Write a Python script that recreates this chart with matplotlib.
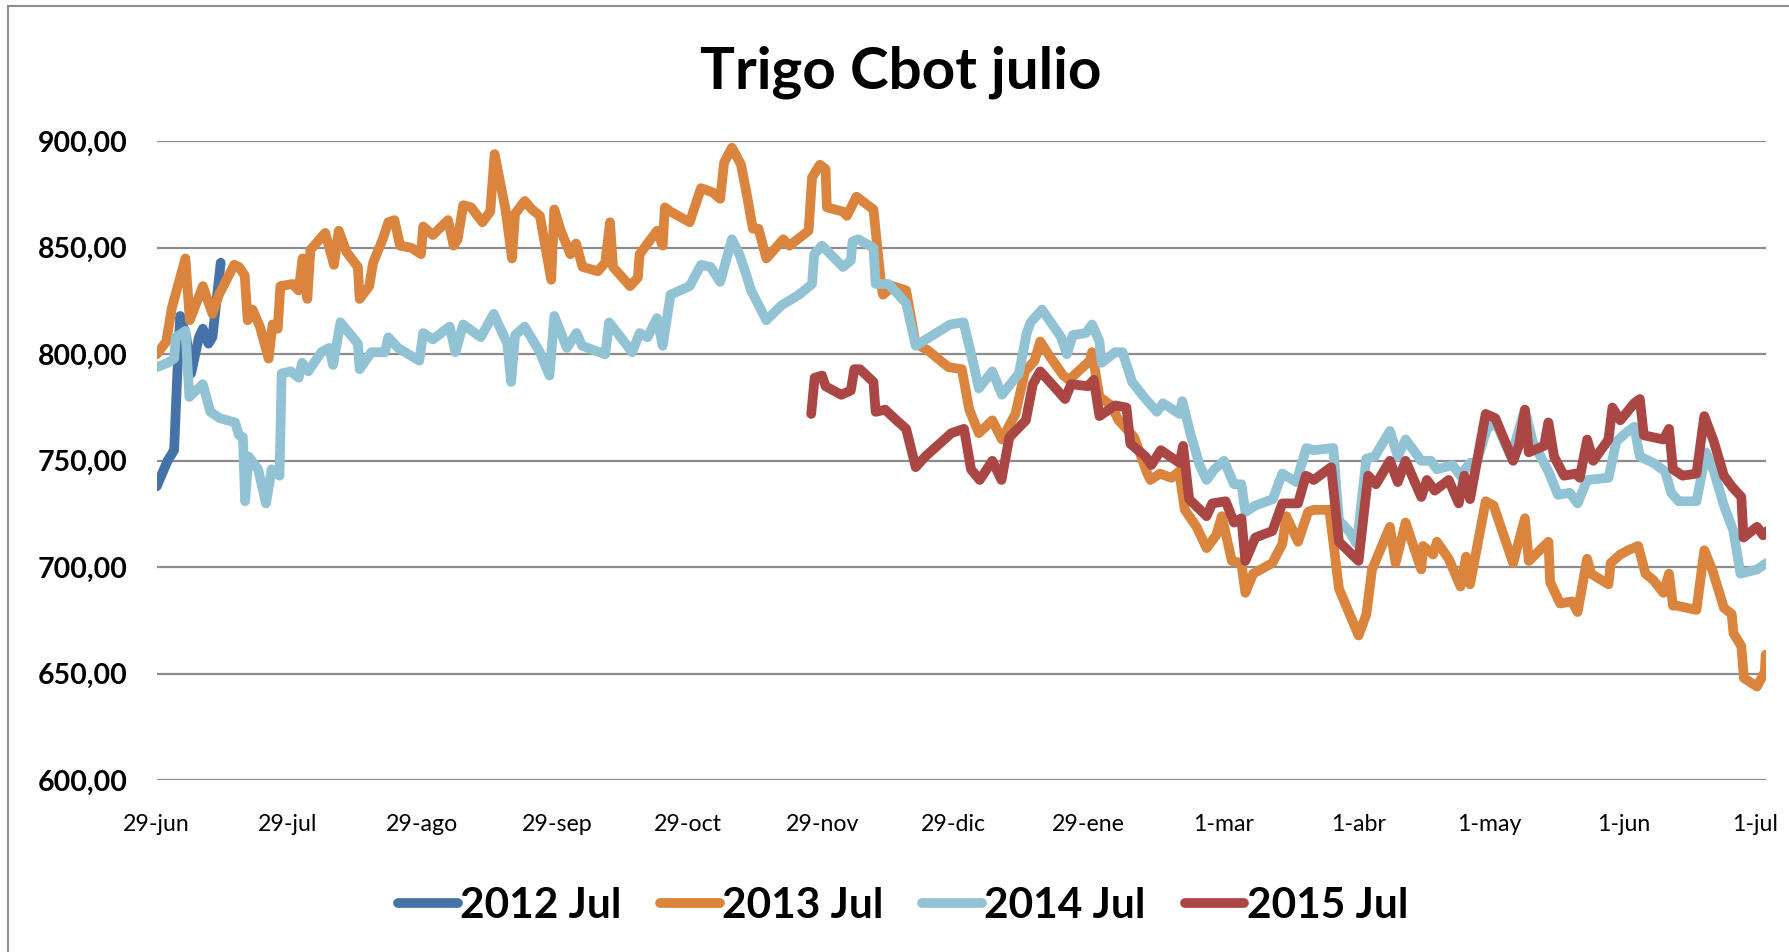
import numpy as np
import matplotlib
matplotlib.use("Agg")
import matplotlib.pyplot as plt

plt.rcParams['font.family'] = ['Lato', 'DejaVu Sans']

# x values are days counted from 29-jun
tick_days = [0, 30, 61, 92, 122, 153, 183, 214, 245, 276, 306, 337, 367]
tick_labels = ['29-jun', '29-jul', '29-ago', '29-sep', '29-oct', '29-nov', '29-dic',
               '29-ene', '1-mar', '1-abr', '1-may', '1-jun', '1-jul']
y_ticks = [600, 650, 700, 750, 800, 850, 900]

days_2012 = [0, 2.5, 4, 4.8, 5.4, 6.8, 7.9, 9.7, 10.6, 11.9, 12.8, 14.7]
vals_2012 = [738, 750, 755, 794, 818, 808, 791, 808, 812, 805, 808, 843]

days_2013 = [0, 2.2, 3.5, 6.6, 7.6, 10.6, 12.8, 14.3, 17.8, 18.9, 20.2, 20.9, 22, 23.7,
             25.7, 26.6, 27.8, 28.4, 31.2, 32.6, 33.5, 34.6, 35.3, 38.7, 40.7, 41.8, 43.6,
             46.2, 46.6, 48.8, 49.7, 51.9, 53.2, 54.6, 55.9, 58.5, 60.7, 61.2, 63.4, 66.9,
             68.2, 69.1, 70.4, 72.2, 74.8, 76.6, 77.6, 80.1, 81.6, 82.3, 84.5, 86.2, 88,
             90.6, 91.3, 92.8, 95, 96.3, 97.8, 101.3, 103, 104.1, 104.8, 108.7, 110.5,
             110.9, 114.9, 116.2, 116.7, 118, 122.4, 125, 127.7, 129.4, 130.3, 132.1,
             134.2, 135.6, 136.9, 138.2, 140, 142.6, 143.9, 145.3, 149.7, 150.5, 152.3,
             153.6, 153.9, 157.6, 158.5, 160.7, 164.6, 166.4, 166.8, 169, 172.1, 174.3,
             177, 181.8, 184.9, 186.6, 188.8, 191.9, 194.1, 197.2, 199.4, 201.6, 202.9,
             205.1, 208.2, 209.5, 214.3, 214.8, 216.5, 219.2, 220.9, 224.5, 227.3, 228.2,
             230.4, 233, 234.8, 236.1, 238.8, 241.1, 243.3, 244.6, 246.9, 249.1, 250,
             251.8, 256.2, 258.5, 259.4, 262.1, 264.4, 265.7, 269.3, 271.5, 276, 277.8,
             279.1, 283.2, 284.5, 286.8, 290.4, 290.8, 293.1, 294, 296.7, 299.4, 300.7,
             301.6, 305.2, 307, 311.5, 314.2, 315.1, 319.6, 320, 322.3, 325, 326.3, 328.5,
             329.4, 333.4, 333.9, 336.1, 337.9, 340.2, 341.9, 343.7, 346, 347.3, 348.2,
             349, 353.6, 355.4, 357.2, 359.9, 361.7, 362.1, 363.9, 364.5, 367.5, 369.3,
             369.5]
vals_2013 = [800, 806, 822, 845, 816, 832, 819, 828, 842, 841, 837, 816, 821, 813,
             798, 814, 812, 832, 833, 830, 845, 826, 849, 857, 842, 858, 848,
             841, 826, 832, 843, 854, 862, 863, 851, 850, 847, 860, 856, 863,
             851, 854, 870, 869, 862, 867, 894, 868, 845, 866, 872, 868, 865,
             835, 868, 858, 847, 852, 841, 839, 843, 862, 841, 832, 836,
             847, 858, 851, 869, 867, 862, 878, 876, 873, 890, 897,
             889, 874, 859, 859, 845, 851, 854, 851, 858, 883, 889,
             887, 869, 867, 865, 874, 868, 832, 828, 832, 830, 805,
             802, 794, 793, 774, 763, 769, 760, 772, 792, 797, 806,
             799, 790, 788, 797, 801, 780, 776, 769, 761, 745, 741,
             744, 742, 745, 727, 719, 709, 715, 724, 703, 702, 688,
             697, 702, 711, 724, 712, 726, 727, 727, 690, 668, 678,
             699, 719, 702, 721, 699, 710, 706, 712, 704, 691, 705,
             692, 731, 729, 702, 723, 703, 712, 693, 683, 684, 679, 704,
             697, 692, 702, 706, 708, 710, 697, 694, 688, 697, 682,
             682, 680, 708, 699, 681, 678, 669, 663, 648, 644, 651,
             659]

days_2014 = [0, 2.6, 4, 4.4, 6.6, 7.5, 10.6, 12.3, 14.5, 18, 18.9, 19.8, 20.3, 21.1,
             23.3, 25.1, 26.4, 28.2, 28.7, 30.8, 32.6, 33.4, 34.8, 37.8, 39.6, 40.5, 42.2,
             46.2, 46.6, 49.3, 52.4, 53.2, 55.4, 60.3, 61.2, 63.4, 67.3, 68.6, 70.4, 74.4,
             77.4, 80.5, 81.4, 82.3, 84.5, 88, 90.2, 91.3, 94.2, 96.4, 97.7, 103, 103.9,
             109.2, 110.9, 112.7, 114.9, 116.2, 118, 122.4, 125, 127.2, 129.4, 132.1,
             133.8, 135.6, 136.5, 140, 143.5, 147.5, 150.5, 151, 152.8, 157.6, 159.4,
             159.8, 161.1, 164.6, 165.1, 168.1, 172.1, 174.3, 182.2, 185.3, 187.5, 188.8,
             191.9, 194.1, 198, 199.8, 200.7, 203.3, 207.7, 209, 210.4, 213.4, 214.8,
             216.5, 217, 220.1, 221.8, 224, 227.1, 229.7, 231.1, 234.9, 235.5, 237.5,
             239.5, 241.1, 242.9, 245.1, 247.4, 249.1, 250, 252.3, 256.3, 258.5, 261.7,
             264, 265.7, 270.2, 271.5, 273.8, 275.6, 277.8, 279.7, 283.2, 285, 286.8,
             290.4, 292.6, 294, 297.6, 299.4, 301.6, 303, 305.5, 307.5, 311, 314.2, 316,
             319.6, 321.8, 324.5, 326.3, 328.5, 333.4, 335.2, 337.9, 339.3, 340.6, 343.7,
             346.4, 347.8, 349.5, 353.6, 355.8, 357.6, 359.9, 362.1, 363.7, 367.5, 369.7]
vals_2014 = [794, 796, 798, 808, 811, 780, 786, 773, 770, 768, 762, 761, 731, 752,
             746, 730, 746, 743, 791, 792, 789, 796, 792, 801, 803, 795, 815,
             805, 793, 801, 801, 808, 803, 797, 810, 807, 813, 801, 814, 808,
             819, 805, 787, 809, 813, 801, 790, 818, 803, 810, 804, 800, 815,
             801, 810, 808, 817, 804, 828, 832, 842, 841, 834, 854,
             847, 836, 830, 816, 823, 828, 833, 847, 851, 841, 844,
             853, 854, 850, 833, 833, 824, 804, 814, 815, 796, 784,
             792, 781, 791, 810, 815, 821, 808, 800, 809, 810, 814,
             806, 796, 801, 801, 787, 779, 773, 777, 772, 778, 762,
             748, 741, 746, 750, 739, 739, 726, 729, 732, 744, 740,
             756, 755, 756, 722, 717, 711, 751, 752, 764, 752, 760,
             750, 750, 746, 748, 743, 749, 749, 765, 768, 752, 774, 759,
             745, 734, 735, 730, 741, 742, 759, 764, 766, 752, 749,
             745, 735, 731, 731, 754, 745, 729, 717, 697, 699, 702]

days_2015 = [150.3, 151.1, 152.8, 153.6, 157.2, 159.4, 160.2, 161.5, 164.6, 165.1, 167.3,
             169.9, 172.1, 174.3, 176.5, 182.5, 185.4, 187, 189, 191.9, 194, 195.8,
             199.6, 201.2, 202.9, 206, 208.6, 210, 213.8, 215.2, 216.5, 220.1, 222.7,
             223.6, 227.1, 228.4, 230.6, 234.9, 235.7, 237.1, 241.1, 242.4, 245.5, 247.4,
             249.1, 250, 252.3, 256.2, 258.5, 262.1, 263.9, 265.7, 269.7, 271.5, 276,
             278.2, 280, 283.2, 285, 286.8, 290.4, 291.7, 293.5, 296.7, 299, 300.3,
             301.6, 305.2, 307.4, 311.5, 312.8, 314.2, 315.1, 318.6, 319.6, 320.9, 323.2,
             325.9, 326.8, 328.5, 329.9, 333.4, 334.3, 336.1, 339.3, 340.6, 341.5, 346,
             347.3, 348.2, 350.4, 353.6, 355.4, 357.6, 359.9, 361.7, 363.9, 364.4, 367.5,
             368.9, 369.8]
vals_2015 = [772, 789, 790, 785, 781, 783, 793, 793, 787, 773, 774,
             769, 765, 747, 752, 763, 765, 746, 741, 750, 741, 761,
             769, 786, 792, 785, 779, 786, 785, 788, 771, 776, 775,
             758, 752, 748, 755, 749, 757, 732, 724, 730, 731, 721,
             723, 703, 714, 717, 730, 730, 743, 741, 747, 712, 703,
             743, 739, 750, 740, 750, 733, 741, 736, 741, 730, 743,
             732, 772, 770, 750, 757, 774, 754, 757, 768, 752, 743,
             744, 742, 760, 750, 760, 775, 769, 777, 779, 762, 760,
             765, 746, 743, 744, 771, 759, 743, 738, 733, 714, 719,
             715, 717]

series = [
    ('2012 Jul', days_2012, vals_2012, '#4572A7'),
    ('2013 Jul', days_2013, vals_2013, '#DB843D'),
    ('2014 Jul', days_2014, vals_2014, '#91C3D5'),
    ('2015 Jul', days_2015, vals_2015, '#AA4643'),
]

W, H = 1790, 952
fig = plt.figure(figsize=(W / 100, H / 100), dpi=100)
ax = fig.add_axes([156.7 / W, 1 - 780.3 / H, (1765.7 - 156.7) / W, (780.3 - 141.3) / H])

for name, d, v, c in series:
    ax.plot(d, v, color=c, lw=7.0, label=name, solid_joinstyle='round',
            solid_capstyle='round', zorder=3)

ax.set_xlim(0, 369.5)
ax.set_ylim(600, 900)
ax.set_yticks(y_ticks)
ax.set_yticklabels(['%d,00' % t for t in y_ticks], fontsize=20.5, fontweight='bold')
ax.set_xticks(tick_days)
ax.set_xticklabels(tick_labels, fontsize=16.7)
ax.tick_params(axis='both', length=0)
ax.tick_params(axis='y', pad=21)
ax.tick_params(axis='x', pad=24)
ax.grid(axis='y', color='#8c8c8c', lw=1.6, zorder=0)
for s in ax.spines.values():
    s.set_visible(False)

fig.text(901 / W, 1 - 88.3 / H, 'Trigo Cbot julio', ha='center', va='baseline',
         fontsize=42, fontweight='bold')

fig.legend(loc='center', bbox_to_anchor=(903 / W, 1 - 905.5 / H), ncol=4, frameon=False,
           prop={'size': 30.5, 'weight': 'bold'}, handlelength=1.41, handletextpad=0.05,
           columnspacing=0.92)

# chart border (right and bottom sides are cut off in the original)
fig.patches.append(plt.Rectangle((8 / W, -0.05), 1.2, 1 - 6 / H + 0.05, fill=False,
                                 edgecolor='#8c8c8c', lw=1.5, transform=fig.transFigure))

fig.savefig('out.png', dpi=100)
